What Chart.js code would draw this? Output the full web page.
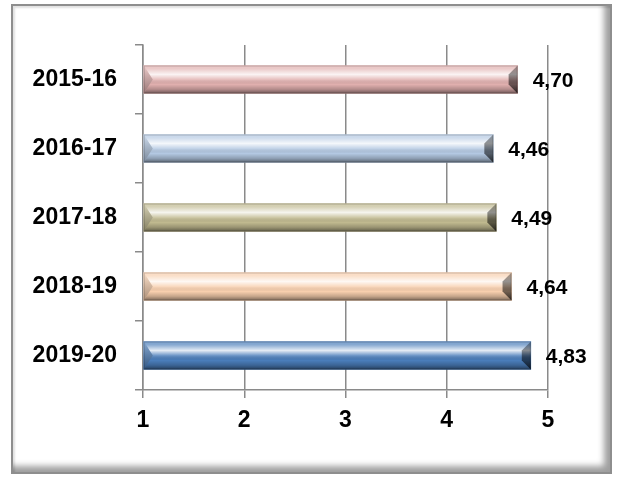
<!DOCTYPE html>
<html>
<head>
<meta charset="utf-8">
<script src="https://cdn.jsdelivr.net/npm/chart.js@4.4.1/dist/chart.umd.min.js"></script>
<style>
    html, body { margin: 0; padding: 0; background: #fff; }
    #frame {
        position: absolute; left: 11px; top: 4px; width: 597px; height: 466px;
        border: 2px solid #8e8e8e;
        box-shadow: inset -8px -8px 6px -2px rgba(0,0,0,0.38), inset 2px 2px 2px rgba(0,0,0,0.12);
    }
    #wrap { position: absolute; left: 0; top: 0; width: 621px; height: 480px; }
</style>
</head>
<body>
<div id="frame"></div>
<div id="wrap"><canvas id="barChart" width="621" height="480"></canvas></div>
<script>
const years = ["2015-16", "2016-17", "2017-18", "2018-19", "2019-20"];
const scores = [4.70, 4.46, 4.49, 4.64, 4.83];
const xTicks = [1, 2, 3, 4, 5];
const barColors = ["#E0AFAE", "#B3C8E2", "#C0B98F", "#F8CFAE", "#4A7DBA"];

const FONT = "'Liberation Sans', Arial, sans-serif";

// Function to format numbers with a comma
function fmt(v) {
    return v.toFixed(2).replace(".", ",");
}

// Plugin: bevel shading on each bar + value labels
const bevelPlugin = {
    id: "bevel",
    afterDatasetsDraw(chart) {
        const ctx = chart.ctx;
        const meta = chart.getDatasetMeta(0);
        meta.data.forEach((bar, i) => {
            const x0 = Math.min(bar.base, bar.x);
            const x1 = Math.max(bar.base, bar.x);
            const yt = bar.y - bar.height / 2;
            const yb = bar.y + bar.height / 2;
            const b = 9;

            ctx.save();
            const g = ctx.createLinearGradient(0, yt, 0, yb);
            g.addColorStop(0, "rgba(255,255,255,0.25)");
            g.addColorStop(0.12, "rgba(255,255,255,0.35)");
            g.addColorStop(0.32, "rgba(255,255,255,0.85)");
            g.addColorStop(0.5, "rgba(255,255,255,0.2)");
            g.addColorStop(0.68, "rgba(0,0,0,0.0)");
            g.addColorStop(0.85, "rgba(0,0,0,0.2)");
            g.addColorStop(1, "rgba(0,0,0,0.5)");
            ctx.fillStyle = g;
            ctx.fillRect(x0, yt, x1 - x0, yb - yt);

            // left cap (triangle pointing inward)
            ctx.beginPath();
            ctx.moveTo(x0, yt);
            ctx.lineTo(x0 + b, bar.y);
            ctx.lineTo(x0, yb);
            ctx.closePath();
            ctx.fillStyle = barColors[i];
            ctx.fill();
            const lg = ctx.createLinearGradient(0, yt, 0, yb);
            lg.addColorStop(0, "rgba(255,255,255,0.35)");
            lg.addColorStop(1, "rgba(0,0,0,0.3)");
            ctx.fillStyle = lg;
            ctx.fill();

            // right cap
            ctx.beginPath();
            ctx.moveTo(x1, yt);
            ctx.lineTo(x1 - b, yt + b);
            ctx.lineTo(x1 - b, yb - b);
            ctx.lineTo(x1, yb);
            ctx.closePath();
            const rg = ctx.createLinearGradient(0, yt, 0, yb);
            rg.addColorStop(0, "rgba(0,0,0,0.3)");
            rg.addColorStop(1, "rgba(0,0,0,0.65)");
            ctx.fillStyle = rg;
            ctx.fill();

            ctx.strokeStyle = "rgba(0,0,0,0.18)";
            ctx.lineWidth = 1;
            ctx.strokeRect(x0 + 0.5, yt + 0.5, x1 - x0 - 1, yb - yt - 1);

            // value label
            ctx.fillStyle = "#000";
            ctx.font = "bold 21px " + FONT;
            ctx.textAlign = "left";
            ctx.textBaseline = "middle";
            ctx.fillText(fmt(scores[i]), x1 + 15, bar.y + 2);
            ctx.restore();
        });
    }
};

const ctx = document.getElementById("barChart").getContext("2d");

new Chart(ctx, {
    type: "bar",
    data: {
        labels: years,
        datasets: [
            {
                data: scores,
                backgroundColor: barColors,
                borderWidth: 0,
                barThickness: 28,
                base: 1,
            },
        ],
    },
    options: {
        indexAxis: "y",
        responsive: false,
        animation: false,
        layout: {
            padding: { left: 0, right: 73, top: 45, bottom: 40 },
        },
        plugins: {
            legend: { display: false },
            tooltip: { enabled: false },
        },
        scales: {
            x: {
                min: 1,
                max: 5,
                afterBuildTicks: (scale) => {
                    scale.ticks = xTicks.map((v) => ({ value: v }));
                },
                afterFit: (scale) => {
                    scale.height = 50;
                },
                grid: {
                    color: "#8a8a8a",
                    lineWidth: 1.5,
                    tickLength: 8,
                },
                border: { color: "#8a8a8a", width: 1.5 },
                ticks: {
                    color: "#000",
                    padding: 9,
                    font: { family: FONT, size: 23, weight: "bold" },
                },
            },
            y: {
                afterFit: (scale) => {
                    scale.width = 143;
                },
                grid: {
                    offset: true,
                    drawOnChartArea: false,
                    color: "#8a8a8a",
                    lineWidth: 1.5,
                    tickLength: 8,
                },
                border: { color: "#8a8a8a", width: 1.5 },
                ticks: {
                    color: "#000",
                    padding: 18,
                    font: { family: FONT, size: 23, weight: "bold" },
                },
            },
        },
    },
    plugins: [bevelPlugin],
});
</script>
</body>
</html>
